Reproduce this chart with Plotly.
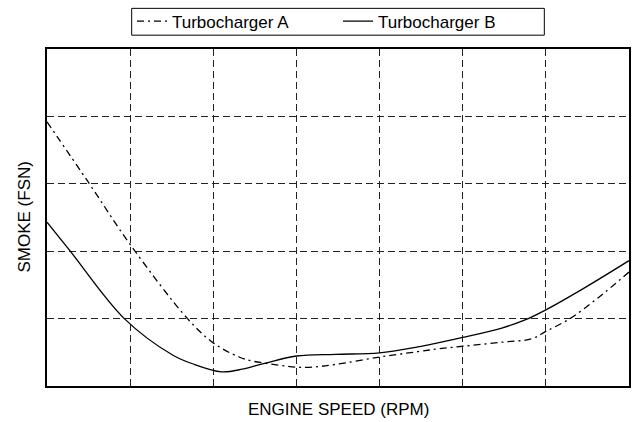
import plotly.graph_objects as go

# Turbocharger A (dash-dot)
speed_a = [0.0, 0.51, 1.0, 1.69, 2.0, 2.31, 2.47, 2.79, 3.0, 3.19, 3.47, 4.0, 4.46, 4.70, 5.0, 5.47, 5.83, 6.0, 6.29, 6.63, 7.0]
smoke_a = [3.92, 3.0, 2.1, 1.0, 0.64, 0.43, 0.37, 0.31, 0.28, 0.28, 0.32, 0.43, 0.51, 0.55, 0.59, 0.65, 0.70, 0.81, 1.0, 1.31, 1.69]

# Turbocharger B (solid)
speed_b = [0.0, 0.28, 0.93, 1.51, 1.75, 2.1, 2.35, 2.63, 3.0, 3.47, 4.0, 4.46, 4.70, 5.0, 5.47, 5.75, 6.0, 6.47, 7.0]
smoke_b = [2.43, 2.0, 1.0, 0.46, 0.33, 0.21, 0.25, 0.34, 0.445, 0.47, 0.49, 0.58, 0.64, 0.72, 0.86, 0.98, 1.13, 1.46, 1.86]

FONT = "Arial, Liberation Sans, sans-serif"

fig = go.Figure()
fig.add_trace(go.Scatter(x=speed_a, y=smoke_a, mode="lines", name="Turbocharger A",
                         line=dict(color="black", width=1.3, dash="7px,4px,2px,4px",
                                   shape="spline", smoothing=1.0)))
fig.add_trace(go.Scatter(x=speed_b, y=smoke_b, mode="lines", name="Turbocharger B",
                         line=dict(color="black", width=1.3, shape="spline", smoothing=1.0)))

axis_common = dict(showticklabels=False, ticks="", dtick=1, showgrid=True,
                   gridcolor="#222", gridwidth=1, griddash="7px,4px",
                   showline=True, linecolor="black", linewidth=1.5, mirror=True,
                   zeroline=False)
fig.update_xaxes(range=[0, 7], **axis_common)
fig.update_yaxes(range=[0, 5], **axis_common)

fig.update_layout(
    width=634, height=422,
    margin=dict(l=47, r=3, t=46, b=36),
    paper_bgcolor="white", plot_bgcolor="white",
    font=dict(family=FONT, size=17, color="black"),
    showlegend=True,
    legend=dict(orientation="h", x=0.5, xanchor="center", y=1.135, yanchor="top",
                borderwidth=0, bgcolor="rgba(0,0,0,0)",
                font=dict(size=17), itemwidth=30, entrywidth=161, entrywidthmode="pixels"),
    shapes=[
        dict(type="rect", xref="paper", yref="paper", x0=0.1455, x1=0.8545,
             y0=1.041, y1=1.1206, line=dict(color="black", width=1), fillcolor="rgba(0,0,0,0)"),
    ],
    annotations=[
        dict(text="ENGINE SPEED (RPM)", xref="paper", yref="paper", x=0.5, y=0,
             yshift=-23, xanchor="center", yanchor="middle", showarrow=False,
             font=dict(size=17, family=FONT)),
        dict(text="SMOKE (FSN)", xref="paper", yref="paper", x=0, y=0.5,
             xshift=-23, xanchor="center", yanchor="middle", textangle=-90, showarrow=False,
             font=dict(size=17, family=FONT)),
    ],
)

fig.write_html("out.html", config={"displayModeBar": False},
               post_script="document.body.style.margin='0';document.body.style.overflow='hidden';")
